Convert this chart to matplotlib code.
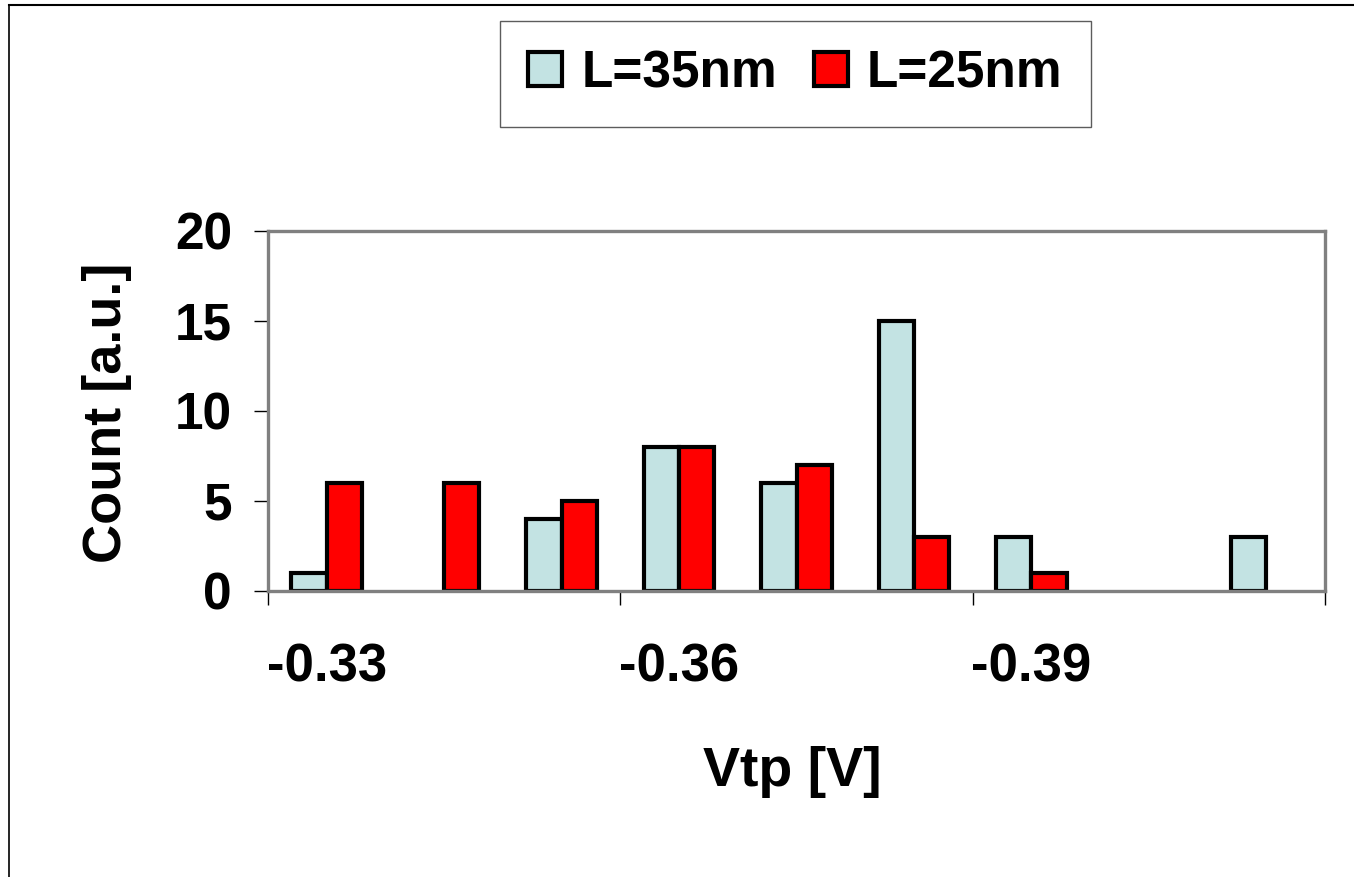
import matplotlib.pyplot as plt
import matplotlib.lines as mlines
import numpy as np

plt.rcParams['font.family'] = ['Liberation Sans', 'DejaVu Sans']
plt.rcParams['font.weight'] = 'bold'

# data
bins = ["-0.33", "-0.34", "-0.35", "-0.36", "-0.37", "-0.38", "-0.39", "-0.40", "-0.41"]
count_35nm = [1, 0, 4, 8, 6, 15, 3, 0, 3]
count_25nm = [6, 6, 5, 8, 7, 3, 1, 0, 0]
labeled_bins = ["-0.33", "-0.36", "-0.39"]

COLOR_35 = '#C3E3E3'
COLOR_25 = '#FF0000'
COLOR_FRAME = '#808080'

W, H = 1354, 877
fig = plt.figure(figsize=(W / 100, H / 100), dpi=100)
fig.patch.set_facecolor('white')

# plot area in pixel coords of the reference
left, right, top, bottom = 268, 1325, 231, 591
ax = fig.add_axes([left / W, 1 - bottom / H, (right - left) / W, (bottom - top) / H])

x = np.arange(len(bins))
bw = 0.3
b1 = ax.bar(x - bw / 2, count_35nm, bw, color=COLOR_35, edgecolor='black', linewidth=3, label='L=35nm', zorder=3)
b2 = ax.bar(x + bw / 2, count_25nm, bw, color=COLOR_25, edgecolor='black', linewidth=3, label='L=25nm', zorder=3)
# empty bins get no outline
for bars, vals in ((b1, count_35nm), (b2, count_25nm)):
    for r, v in zip(bars, vals):
        if v == 0:
            r.set_linewidth(0)

ax.set_xlim(-0.5, len(bins) - 0.5)
ax.set_ylim(0, 20)

# y axis
ax.set_yticks([0, 5, 10, 15, 20])
ax.tick_params(axis='y', direction='out', length=10, width=1, color='black', pad=16, labelsize=37)

# x axis: ticks at every third bin boundary, labels on the bin centres
ax.set_xticks(np.arange(-0.5, len(bins), 3))
ax.set_xticklabels([])
ax.tick_params(axis='x', which='major', direction='out', length=10, width=1, color='black')
lab_pos = [bins.index(b) for b in labeled_bins]
ax.set_xticks(lab_pos, minor=True)
ax.set_xticklabels(labeled_bins, minor=True)
ax.tick_params(axis='x', which='minor', length=0, pad=37, labelsize=38)

for s in ax.spines.values():
    s.set_color(COLOR_FRAME)
    s.set_linewidth(2.4)
ax.spines['bottom'].set_zorder(4)

fig.text(107 / W, 1 - 413 / H, "Count [a.u.]", rotation=90, ha='center', va='center',
         fontsize=39, fontweight='bold')
fig.text(792 / W, 1 - 772 / H, "Vtp [V]", ha='center', va='center', fontsize=40, fontweight='bold')

leg = fig.legend(handles=[b1, b2], loc='upper left', bbox_to_anchor=(500 / W, 1 - 21 / H),
                 ncol=2, fontsize=37, frameon=True, fancybox=False, borderpad=0.55,
                 handlelength=0.66, handleheight=0.65, handletextpad=0.37, columnspacing=0.72,
                 borderaxespad=0)
leg.get_frame().set_edgecolor('#333333')
leg.get_frame().set_linewidth(1.0)
for p in leg.get_patches():
    p.set_linewidth(3)

# outer figure border (top and left edges visible)
fig.add_artist(mlines.Line2D([9 / W, 9 / W], [0, 1 - 5 / H], color='black', lw=1.2))
fig.add_artist(mlines.Line2D([9 / W, 1], [1 - 5 / H, 1 - 5 / H], color='black', lw=1.5))

fig.savefig('out.png', dpi=100, facecolor='white')
